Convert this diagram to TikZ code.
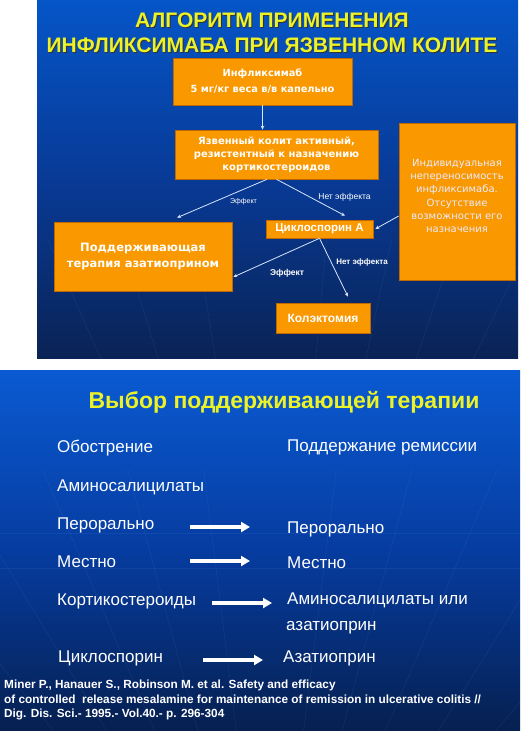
\documentclass[tikz,border=0pt]{standalone}
\usepackage{fontspec}
\setmainfont{Liberation Sans}
\newfontfamily\boxfont{DejaVu Sans}
\usetikzlibrary{arrows.meta,calc}
\definecolor{boxor}{RGB}{250,152,0}
\definecolor{boxedge}{RGB}{190,105,0}
\definecolor{ttl}{RGB}{236,242,40}
\definecolor{arr}{RGB}{215,230,255}
\definecolor{topA}{RGB}{5,85,200}
\definecolor{topB}{RGB}{8,58,150}
\definecolor{topC}{RGB}{10,35,85}
\definecolor{botA}{RGB}{10,90,210}
\definecolor{botB}{RGB}{6,60,160}
\definecolor{botC}{RGB}{6,32,80}
\definecolor{grid}{RGB}{120,160,230}
\begin{document}
\begin{tikzpicture}[x=1pt,y=1pt,
  box/.style={draw=boxedge, line width=0.6pt, fill=boxor, text=white, align=center, inner sep=0pt},
  lbl/.style={text=white, inner sep=0pt},
  thinarrow/.style={draw=arr, line width=0.8pt, -{Stealth[length=4pt,width=3.5pt]}},
  txt/.style={text=white, font=\fontsize{17}{20}\selectfont, anchor=base west, inner sep=0pt, text height=12pt, text depth=4pt},
  bigarrow/.style={draw=white, line width=3.4pt, -{Triangle[length=9pt,width=10pt]}},
  ttlsty/.style={text=ttl, font=\bfseries\fontsize{21}{24}\selectfont, inner sep=0pt},
  shadowsty/.style={text=black!80, font=\bfseries\fontsize{21}{24}\selectfont, inner sep=0pt},
  gridline/.style={draw=grid, line width=0.6pt, draw opacity=0.1},
  citesty/.style={text=white, anchor=base west, inner sep=0pt, font=\bfseries\fontsize{11.8}{13}\selectfont},
]
\useasboundingbox (0,0) rectangle (520,-731);
\fill[white] (0,0) rectangle (520,-731);
% top slide
\shade[top color=topA, bottom color=topC, middle color=topB] (37,0) rectangle (518,-358);
\begin{scope}
\clip (37,-240) rectangle (518,-358);
\foreach \xx in {-160,-60,30,110,190,330,400,470,550,640,740}
  \draw[gridline] (280,-760) -- (\xx,-200);
\end{scope}
\node[shadowsty] (t1s) at (273,-21) {АЛГОРИТМ ПРИМЕНЕНИЯ};
\node[shadowsty] (t2s) at (273,-46) {ИНФЛИКСИМАБА ПРИ ЯЗВЕННОМ КОЛИТЕ};
\node[ttlsty] (t1) at (272,-20) {АЛГОРИТМ ПРИМЕНЕНИЯ};
\node[ttlsty] (t2) at (272,-45) {ИНФЛИКСИМАБА ПРИ ЯЗВЕННОМ КОЛИТЕ};

\node[box, minimum width=179pt, minimum height=47pt, font=\boxfont\bfseries\fontsize{9.8}{16}\selectfont] (b1) at (262.5,-81.5) {Инфликсимаб\\5 мг/кг веса в/в капельно};
\node[box, minimum width=203pt, minimum height=49pt, font=\boxfont\bfseries\fontsize{10}{13}\selectfont] (b2) at (276.5,-154.5) {Язвенный колит активный,\\резистентный к назначению\\кортикостероидов};
\node[box, minimum width=116pt, minimum height=157pt] (rb) at (457,-201.5) {};
\node[text=white!92!blue, align=center, inner sep=0pt, font=\boxfont\fontsize{10}{13.3}\selectfont] (rbt) at (457,-196) {Индивидуальная\\непереносимость\\инфликсимаба.\\Отсутствие\\возможности его\\назначения};
\node[box, minimum width=107pt, minimum height=18pt, font=\bfseries\fontsize{11.5}{13}\selectfont] (cy) at (319.5,-229) {Циклоспорин А};
\node[box, minimum width=178pt, minimum height=69pt, font=\boxfont\bfseries\fontsize{11.5}{17}\selectfont] (lb) at (143,-256.5) {Поддерживающая\\терапия азатиоприном};
\node[box, minimum width=94pt, minimum height=30pt, font=\bfseries\fontsize{12}{13}\selectfont] (col) at (323,-318) {Колэктомия};

\draw[thinarrow] (b1.south) -- (b1.south |- b2.north);
\draw[thinarrow] ([xshift=-9.5pt]b2.south) -- ([xshift=34pt,yshift=4pt]lb.north);
\draw[thinarrow] (b2.south) -- ([xshift=25.5pt,yshift=4pt]cy.north);
\draw[thinarrow] ([yshift=-14.5pt]rb.west) -- ([xshift=2pt]cy.east);
\draw[thinarrow] (cy.south) -- ([xshift=1pt,yshift=-20.5pt]lb.east);
\draw[thinarrow] (cy.south) -- ([xshift=25pt,yshift=6pt]col.north);

\node[lbl, font=\fontsize{7}{8}\selectfont] (l1) at (243.5,-202) {Эффект};
\node[lbl, font=\fontsize{8.5}{9}\selectfont] (l2) at (344.5,-197) {Нет эффекта};
\node[lbl, font=\bfseries\fontsize{8.5}{9}\selectfont] (l3) at (287,-273) {Эффект};
\node[lbl, font=\bfseries\fontsize{8}{9}\selectfont] (l4) at (362,-262) {Нет эффекта};

% bottom slide
\shade[top color=botA, bottom color=botC, middle color=botB] (0,-370) rectangle (520,-731);
\begin{scope}
\clip (0,-470) rectangle (520,-731);
\foreach \xx in {-300,-180,-70,30,120,200,340,420,510,620,740}
  \draw[gridline] (270,-1000) -- (\xx,-440);
\draw[gridline] (0,-533) -- (520,-533);
\draw[gridline] (0,-568) -- (520,-568);
\end{scope}
\node[text=ttl, font=\bfseries\fontsize{23}{26}\selectfont, inner sep=0pt] (t3) at (284,-402) {Выбор поддерживающей терапии};

\node[txt] (h1) at (57,-452) {Обострение};
\node[txt] (h2) at (287,-451) {Поддержание ремиссии};
\node[txt] (am) at (57,-491) {Аминосалицилаты};
\node[txt] (p1l) at (57,-529) {Перорально};
\node[txt] (p1r) at (287,-533) {Перорально};
\node[txt] (p2l) at (57,-567) {Местно};
\node[txt] (p2r) at (287,-568) {Местно};
\node[txt] (p3l) at (57,-605) {Кортикостероиды};
\node[txt] (p3r) at (287,-604) {Аминосалицилаты или};
\node[txt] (p3r2) at (286,-630) {азатиоприн};
\node[txt] (p4l) at (58,-662) {Циклоспорин};
\node[txt] (p4r) at (283,-662) {Азатиоприн};

\draw[bigarrow] ([xshift=-97pt,yshift=2pt]p1r.west) -- ([xshift=-37pt,yshift=2pt]p1r.west);
\draw[bigarrow] ([xshift=-97pt,yshift=3pt]p2r.west) -- ([xshift=-37pt,yshift=3pt]p2r.west);
\draw[bigarrow] ([xshift=-75pt,yshift=-3pt]p3r.west) -- ([xshift=-15pt,yshift=-3pt]p3r.west);
\draw[bigarrow] ([xshift=-80pt,yshift=-2pt]p4r.west) -- ([xshift=-20pt,yshift=-2pt]p4r.west);

\node[citesty] (c1) at (4,-688) {Miner P., Hanauer S., Robinson M. et al. Safety and efficacy};
\node[citesty] (c2) at (4,-703) {of controlled\ \ release mesalamine for maintenance of remission in ulcerative colitis //};
\node[citesty] (c3) at (4,-717) {Dig. Dis. Sci.- 1995.- Vol.40.- p. 296-304};
\end{tikzpicture}
\end{document}
